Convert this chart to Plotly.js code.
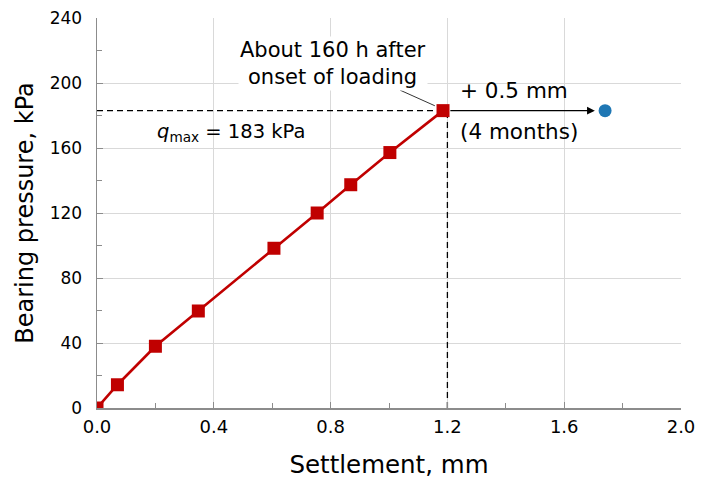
<!DOCTYPE html>
<html>
<head>
<meta charset="utf-8">
<script src="https://cdn.plot.ly/plotly-3.0.1.min.js"></script>
<style>html,body{margin:0;padding:0;background:#fff;}#chart{width:710px;height:479px;}</style>
</head>
<body>
<div id="chart"></div>
<script>
// Load test: settlement vs bearing pressure
const settlement = [0.0, 0.07, 0.2, 0.347, 0.606, 0.754, 0.869, 1.003, 1.185];
const pressure   = [0, 14.3, 38, 59.7, 98.3, 120, 137.4, 157.2, 183];
const longTermSettlement = [1.74];
const longTermPressure = [183];
const qMax = 183;
const qMaxSettlementGuide = 1.2;
const xTicks = [0, 0.4, 0.8, 1.2, 1.6, 2.0];
const xTickText = ['0.0', '0.4', '0.8', '1.2', '1.6', '2.0'];
const yTicks = [0, 40, 80, 120, 160, 200, 240];

const FONT = 'DejaVu Sans, Verdana, sans-serif';
const RED = '#c00000';

const traces = [
  {
    x: [0, settlement[settlement.length - 1]],
    y: [qMax, qMax],
    mode: 'lines', line: {color: '#000', width: 1.3, dash: '6px,4px'},
    hoverinfo: 'skip', showlegend: false
  },
  {
    x: [qMaxSettlementGuide, qMaxSettlementGuide],
    y: [0, qMax],
    mode: 'lines', line: {color: '#000', width: 1.3, dash: '6px,4px'},
    hoverinfo: 'skip', showlegend: false
  },
  {
    x: settlement, y: pressure,
    mode: 'lines+markers',
    line: {color: RED, width: 2.6},
    marker: {symbol: 'square', size: 13, color: RED},
    showlegend: false
  },
  {
    x: longTermSettlement, y: longTermPressure,
    mode: 'markers',
    marker: {symbol: 'circle', size: 13, color: '#1f77b4'},
    showlegend: false
  }
];

const layout = {
  width: 710, height: 479,
  margin: {l: 97, r: 29, t: 18, b: 71},
  paper_bgcolor: '#fff', plot_bgcolor: '#fff',
  font: {family: FONT, size: 17, color: '#000'},
  xaxis: {
    range: [0, 2.0], tickvals: xTicks, ticktext: xTickText,
    showgrid: true, gridcolor: '#d9d9d9', gridwidth: 1,
    showline: true, linecolor: '#8c8c8c', linewidth: 1.5, mirror: false,
    ticks: 'inside', ticklen: 6, tickcolor: '#8c8c8c', tickwidth: 1,
    minor: {dtick: 0.2, ticks: 'inside', ticklen: 5, tickcolor: '#8c8c8c', showgrid: false},
    zeroline: false, ticklabelstandoff: 2,
    tickfont: {family: FONT, size: 18},
    title: {text: 'Settlement, mm', font: {family: FONT, size: 24.5}, standoff: 21}
  },
  yaxis: {
    range: [0, 240], tickvals: yTicks,
    showgrid: true, gridcolor: '#d9d9d9', gridwidth: 1,
    showline: true, linecolor: '#8c8c8c', linewidth: 1.5,
    ticks: 'inside', ticklen: 6, tickcolor: '#8c8c8c', tickwidth: 1,
    minor: {dtick: 20, ticks: 'inside', ticklen: 5, tickcolor: '#8c8c8c', showgrid: false},
    zeroline: false, ticklabelstandoff: 10,
    tickfont: {family: FONT, size: 17},
    title: {text: 'Bearing pressure, kPa', font: {family: FONT, size: 24}, standoff: 9}
  },
  annotations: [
    {
      x: longTermSettlement[0] - 0.035, y: longTermPressure[0],
      ax: settlement[settlement.length - 1] + 0.02, ay: qMax,
      xref: 'x', yref: 'y', axref: 'x', ayref: 'y',
      showarrow: true, arrowhead: 2, arrowsize: 1.3, arrowwidth: 1.2, arrowcolor: '#000', text: ''
    },
    {
      x: 1.157, y: 186,
      ax: 1.033, ay: 196,
      xref: 'x', yref: 'y', axref: 'x', ayref: 'y',
      showarrow: true, arrowhead: 0, arrowwidth: 0.8, arrowcolor: '#000', text: ''
    },
    {
      x: 0.807, y: 212, xref: 'x', yref: 'y', showarrow: false,
      text: 'About 160 h after<br>onset of loading',
      font: {family: FONT, size: 21}, align: 'center', bgcolor: '#fff'
    },
    {
      x: 1.427, y: 195.5, xref: 'x', yref: 'y', showarrow: false,
      text: '+ 0.5 mm', font: {family: FONT, size: 21.5}
    },
    {
      x: 1.445, y: 170, xref: 'x', yref: 'y', showarrow: false,
      text: '(4 months)', font: {family: FONT, size: 21.5}
    },
    {
      x: 0.46, y: 169.5, xref: 'x', yref: 'y', showarrow: false,
      text: '<i>q</i><sub>max</sub> = 183 kPa', font: {family: FONT, size: 19.5}
    }
  ]
};

Plotly.newPlot('chart', traces, layout, {displayModeBar: false, staticPlot: true});
</script>
</body>
</html>
